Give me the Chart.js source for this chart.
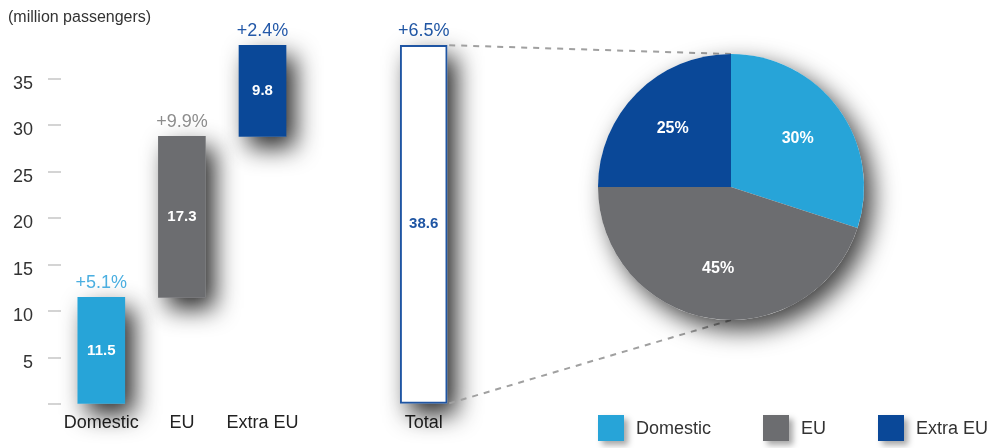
<!DOCTYPE html>
<html>
<head>
<meta charset="utf-8">
<script src="https://cdn.jsdelivr.net/npm/chart.js@4"></script>
<style>
    body { margin: 0; background: #fff; }
    #wrap { position: relative; width: 993px; height: 448px; overflow: hidden; }
    #barras { position: absolute; left: 0; top: 0; }
    #pizza { position: absolute; left: 560px; top: 0; }
    #legenda {
        position: absolute; left: 598px; top: 415px; display: flex; white-space: nowrap;
        font: 18px/26px 'Liberation Sans', Arial, sans-serif; color: #333;
    }
    .item { display: flex; align-items: center; margin-right: 52px; }
    .caixa { width: 26px; height: 26px; margin-right: 12px; box-shadow: 4px 4px 6px rgba(0, 0, 0, .35); }
</style>
</head>
<body>
<div id="wrap">
    <canvas id="barras" width="993" height="448"></canvas>
    <canvas id="pizza" width="433" height="448"></canvas>
    <div id="legenda"></div>
</div>
<script>
// Dados (milhões de passageiros)
var categorias = ['Domestic', 'EU', 'Extra EU'];
var passageiros = [11.5, 17.3, 9.8];
var crescimento = ['+5.1%', '+9.9%', '+2.4%'];
var rotuloTotal = 'Total';
var valorTotal = 38.6;
var crescimentoTotal = '+6.5%';
var participacao = [30, 45, 25]; // % do total
var ticksY = [0, 5, 10, 15, 20, 25, 30, 35];

var cores = ['#27a4d8', '#6c6d70', '#0a4898'];
var coresCrescimento = ['#4aaee0', '#8c8c8c', '#2358a8'];
var azulTotal = '#1f55a3';
var fonte = "'Liberation Sans', Arial, sans-serif";

Chart.defaults.font.family = fonte;

// Monta os intervalos da cascata (cada barra começa onde a anterior terminou)
var intervalos = [];
var acumulado = 0;
passageiros.forEach(function (v) {
    intervalos.push([acumulado, acumulado + v]);
    acumulado += v;
});
var dadosBarras = intervalos.concat([null, [0, valorTotal]]);
var rotulosX = categorias.concat(['', rotuloTotal]);
var rotulosValor = passageiros.concat([null, valorTotal]);
var rotulosCrescimento = crescimento.concat([null, crescimentoTotal]);
var corCrescimento = coresCrescimento.concat([null, azulTotal]);

// Legenda em HTML
var legenda = document.getElementById('legenda');
categorias.forEach(function (nome, i) {
    var item = document.createElement('div');
    item.className = 'item';
    item.innerHTML = '<span class="caixa" style="background:' + cores[i] + '"></span>' + nome;
    legenda.appendChild(item);
});

// Sombra suave atrás da pizza
var sombraPizza = {
    id: 'sombraPizza',
    beforeDatasetsDraw: function (chart) {
        var arco = chart.getDatasetMeta(0).data[0];
        var ctx = chart.ctx;
        ctx.save();
        ctx.shadowColor = 'rgba(0,0,0,0.75)';
        ctx.shadowBlur = 24;
        ctx.shadowOffsetX = 9;
        ctx.shadowOffsetY = 10;
        ctx.fillStyle = '#fff';
        ctx.beginPath();
        ctx.arc(arco.x, arco.y, arco.outerRadius, 0, Math.PI * 2);
        ctx.fill();
        ctx.restore();
    }
};

// Percentuais dentro das fatias
var rotulosPizza = {
    id: 'rotulosPizza',
    afterDatasetsDraw: function (chart) {
        var ctx = chart.ctx;
        ctx.save();
        ctx.font = 'bold 16px ' + fonte;
        ctx.fillStyle = '#fff';
        ctx.textAlign = 'center';
        ctx.textBaseline = 'middle';
        chart.getDatasetMeta(0).data.forEach(function (arco, i) {
            var meio = (arco.startAngle + arco.endAngle) / 2;
            var r = arco.outerRadius * 0.62;
            ctx.fillText(participacao[i] + '%', arco.x + Math.cos(meio) * r, arco.y + Math.sin(meio) * r);
        });
        ctx.restore();
    }
};

var graficoPizza = new Chart(document.getElementById('pizza'), {
    type: 'pie',
    data: {
        labels: categorias,
        datasets: [{
            data: participacao,
            backgroundColor: cores,
            borderWidth: 0
        }]
    },
    options: {
        responsive: false,
        animation: false,
        layout: { padding: { left: 38, top: 54, right: 129, bottom: 128 } },
        plugins: {
            legend: { display: false },
            tooltip: { enabled: false }
        }
    },
    plugins: [sombraPizza, rotulosPizza]
});

// Sombras das barras (desenhadas antes, por baixo)
var sombraBarras = {
    id: 'sombraBarras',
    beforeDatasetsDraw: function (chart) {
        var ctx = chart.ctx;
        ctx.save();
        ctx.shadowColor = 'rgba(0,0,0,0.85)';
        ctx.shadowBlur = 24;
        ctx.shadowOffsetX = 9;
        ctx.shadowOffsetY = 11;
        ctx.fillStyle = '#fff';
        chart.getDatasetMeta(0).data.forEach(function (barra, i) {
            if (!dadosBarras[i]) return;
            var topo = Math.min(barra.y, barra.base);
            ctx.fillRect(barra.x - barra.width / 2, topo, barra.width, Math.abs(barra.base - barra.y));
        });
        ctx.restore();
    }
};

// Valores dentro das barras e variação acima delas
var rotulosBarras = {
    id: 'rotulosBarras',
    afterDatasetsDraw: function (chart) {
        var ctx = chart.ctx;
        ctx.save();
        ctx.textAlign = 'center';
        chart.getDatasetMeta(0).data.forEach(function (barra, i) {
            if (!dadosBarras[i]) return;
            var topo = Math.min(barra.y, barra.base);
            ctx.font = 'bold 15px ' + fonte;
            ctx.textBaseline = 'middle';
            ctx.fillStyle = i === dadosBarras.length - 1 ? azulTotal : '#fff';
            ctx.fillText(rotulosValor[i].toFixed(1), barra.x, (barra.y + barra.base) / 2);
            ctx.font = '18px ' + fonte;
            ctx.textBaseline = 'bottom';
            ctx.fillStyle = corCrescimento[i];
            ctx.fillText(rotulosCrescimento[i], barra.x, topo - 5);
        });
        ctx.restore();
    }
};

// Linhas tracejadas ligando a barra Total à pizza
var conectores = {
    id: 'conectores',
    afterDraw: function (chart) {
        var meta = chart.getDatasetMeta(0);
        var total = meta.data[dadosBarras.length - 1];
        var arco = graficoPizza.getDatasetMeta(0).data[0];
        var dx = graficoPizza.canvas.offsetLeft - chart.canvas.offsetLeft;
        var xBarra = total.x + total.width / 2;
        var ctx = chart.ctx;
        ctx.save();
        ctx.strokeStyle = '#a0a0a0';
        ctx.lineWidth = 2;
        ctx.setLineDash([6, 6]);
        ctx.beginPath();
        ctx.moveTo(xBarra + 2, Math.min(total.y, total.base));
        ctx.lineTo(arco.x + dx, arco.y - arco.outerRadius);
        ctx.moveTo(xBarra + 2, Math.max(total.y, total.base));
        ctx.lineTo(arco.x + dx, arco.y + arco.outerRadius);
        ctx.stroke();
        ctx.restore();
    }
};

var graficoBarras = new Chart(document.getElementById('barras'), {
    type: 'bar',
    data: {
        labels: rotulosX,
        datasets: [{
            data: dadosBarras,
            backgroundColor: cores.concat(['transparent', '#fff']),
            borderColor: azulTotal,
            borderWidth: [0, 0, 0, 0, 2],
            borderSkipped: false,
            barThickness: 47
        }]
    },
    options: {
        responsive: false,
        animation: false,
        layout: { padding: { left: 8, top: 8, right: 529, bottom: 6 } },
        plugins: {
            legend: { display: false },
            tooltip: { enabled: false },
            title: {
                display: true,
                text: '(million passengers)',
                align: 'start',
                color: '#333',
                font: { size: 16, weight: 'normal' },
                padding: { top: 0, bottom: 5 }
            }
        },
        scales: {
            x: {
                grid: { display: false, drawTicks: false },
                border: { display: false },
                ticks: { color: '#222', font: { size: 18 }, padding: 8, autoSkip: false, maxRotation: 0 }
            },
            y: {
                min: 0,
                max: 40,
                grid: { drawOnChartArea: false, drawTicks: true, tickLength: 13, color: '#d4d4d4', lineWidth: 2 },
                border: { display: false },
                ticks: {
                    padding: 15,
                    labelOffset: 5,
                    color: '#333',
                    font: { size: 18 },
                    callback: function (v) { return v === 0 ? '' : v; }
                },
                afterBuildTicks: function (escala) {
                    escala.ticks = ticksY.map(function (v) { return { value: v }; });
                },
                afterFit: function (escala) { escala.width = 53; }
            }
        }
    },
    plugins: [sombraBarras, rotulosBarras, conectores]
});
</script>
</body>
</html>
